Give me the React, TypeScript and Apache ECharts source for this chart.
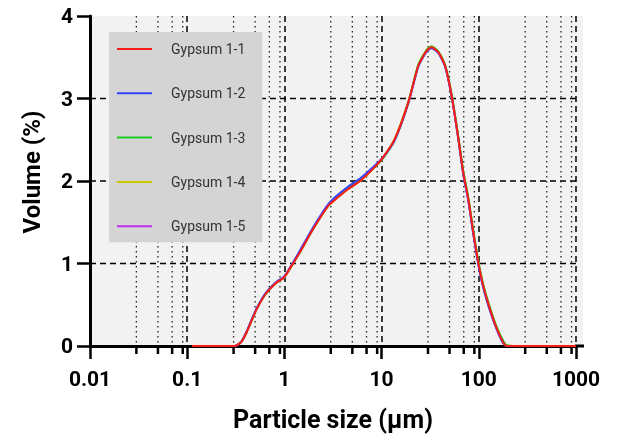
import React, { useEffect, useRef } from "react";
import * as echarts from "echarts";

const sizes = [0.112, 0.2, 0.31, 0.36, 0.41, 0.46, 0.52, 0.64, 0.83, 0.99, 1.24, 1.45, 1.98, 2.83, 3.45, 4.5, 6.0, 8.2, 10.4, 13.7, 18.8, 23.9, 29.1, 32.7, 38.4, 44.9, 52.6, 61.7, 69.2, 78, 87.7, 98.8, 111, 130, 153, 179, 194, 300, 600, 1000];
const gypsum11 = [0, 0, 0, 0.05, 0.17, 0.31, 0.45, 0.63, 0.77, 0.83, 1.01, 1.14, 1.42, 1.7, 1.79, 1.9, 2.0, 2.15, 2.29, 2.51, 2.95, 3.4, 3.58, 3.62, 3.56, 3.4, 3.03, 2.51, 2.1, 1.78, 1.38, 1.01, 0.73, 0.45, 0.21, 0.04, 0, 0, 0, 0];
const gypsum12 = [0, 0, 0, 0.05, 0.18, 0.32, 0.46, 0.64, 0.78, 0.84, 1.02, 1.16, 1.44, 1.72, 1.82, 1.93, 2.03, 2.17, 2.29, 2.5, 2.94, 3.39, 3.57, 3.61, 3.55, 3.39, 3.02, 2.5, 2.08, 1.76, 1.36, 0.99, 0.71, 0.43, 0.2, 0.03, 0, 0, 0, 0];
const gypsum13 = [0, 0, 0, 0.05, 0.17, 0.31, 0.45, 0.63, 0.77, 0.83, 1.01, 1.14, 1.42, 1.7, 1.8, 1.91, 2.01, 2.15, 2.28, 2.5, 2.95, 3.41, 3.59, 3.63, 3.57, 3.41, 3.05, 2.53, 2.12, 1.8, 1.4, 1.03, 0.75, 0.47, 0.23, 0.06, 0.01, 0, 0, 0];
const gypsum14 = [0, 0, 0, 0.05, 0.17, 0.31, 0.45, 0.63, 0.77, 0.83, 1.01, 1.14, 1.42, 1.7, 1.79, 1.9, 2.0, 2.15, 2.29, 2.52, 2.96, 3.41, 3.59, 3.63, 3.57, 3.41, 3.04, 2.52, 2.11, 1.79, 1.39, 1.02, 0.74, 0.46, 0.22, 0.05, 0, 0, 0, 0];
const gypsum15 = [0, 0, 0, 0.05, 0.17, 0.31, 0.45, 0.63, 0.77, 0.83, 1.01, 1.15, 1.43, 1.71, 1.81, 1.92, 2.02, 2.16, 2.29, 2.51, 2.95, 3.4, 3.58, 3.62, 3.56, 3.4, 3.03, 2.51, 2.09, 1.77, 1.37, 1.0, 0.72, 0.44, 0.21, 0.04, 0, 0, 0, 0];

const seriesNames = ["Gypsum 1-1", "Gypsum 1-2", "Gypsum 1-3", "Gypsum 1-4", "Gypsum 1-5"];
const seriesValues = [gypsum11, gypsum12, gypsum13, gypsum14, gypsum15];
const seriesColors = ["#ff1a1a", "#3344ff", "#22cc22", "#c8c800", "#c030f0"];

const xTickLabels = ["0.01", "0.1", "1", "10", "100", "1000"];
const yTickLabels = ["0", "1", "2", "3", "4"];
const yGridLines = [1, 2, 3];
const minorTicks = [0.03, 0.05, 0.07, 0.09, 0.3, 0.5, 0.7, 0.9, 3, 5, 7, 9, 30, 50, 70, 90, 300, 500, 700, 900];

export default function App() {
  const ref = useRef<HTMLDivElement>(null);
  useEffect(() => {
    if (!ref.current) return;
    const chart = echarts.init(ref.current, null, { renderer: "svg" });
    const font = "Roboto";
    const order = [4, 3, 2, 1, 0];
    const lineSeries = order.map((i) => ({
      name: seriesNames[i],
      type: "line",
      data: sizes.map((s, j) => [s, seriesValues[i][j]]),
      showSymbol: false,
      smooth: 0.2,
      clip: false,
      lineStyle: { width: 2, color: seriesColors[i] },
      itemStyle: { color: seriesColors[i] },
    }));
    const customBase = { type: "custom", coordinateSystem: "cartesian2d", clip: false, silent: true };
    const option: any = {
      animation: false,
      graphic: [
        { type: "rect", shape: { x: 91, y: 16, width: 492, height: 330 }, style: { fill: "#f2f2f2" }, z: -100, silent: true },
        { type: "line", shape: { x1: 575, y1: 346, x2: 584, y2: 346 }, style: { stroke: "#000", lineWidth: 3 }, silent: true },
      ],
      grid: { left: 90, top: 16, width: 486, height: 330 },
      legend: {
        data: seriesNames,
        orient: "vertical",
        left: 109,
        top: 32,
        itemWidth: 35,
        itemHeight: 2,
        icon: "rect",
        itemGap: 30.3,
        backgroundColor: "#d4d4d4",
        padding: [10, 17, 9, 8],
        textStyle: { fontFamily: font, fontSize: 14, color: "#333", lineHeight: 14, padding: [0, 0, 0, 14] },
        selectedMode: false,
      },
      xAxis: {
        type: "log",
        logBase: 10,
        min: 0.01,
        max: 1000,
        name: "Particle size (µm)",
        nameLocation: "middle",
        nameGap: 61,
        nameTextStyle: { fontFamily: font, fontSize: 25, fontWeight: "bold", color: "#000" },
        axisLine: { show: true, lineStyle: { color: "#000", width: 3 } },
        axisTick: { show: true, length: 13, lineStyle: { color: "#000", width: 2.5 } },
        axisLabel: {
          margin: 22,
          fontFamily: font,
          fontSize: 21,
          fontWeight: "bold",
          color: "#000",
          formatter: (v: number) => xTickLabels[Math.round(Math.log10(v)) + 2] ?? "",
        },
        splitLine: { show: true, showMinLine: false, lineStyle: { color: "#000", width: 1.5, type: [6, 4] } },
      },
      yAxis: {
        type: "value",
        min: 0,
        max: 4,
        interval: 1,
        name: "Volume (%)",
        nameLocation: "middle",
        nameGap: 46,
        nameTextStyle: { fontFamily: font, fontSize: 24, fontWeight: "bold", color: "#000", padding: [0, 0, 0, 18] },
        axisLine: { show: true, lineStyle: { color: "#000", width: 3 } },
        axisTick: { show: true, length: 13, lineStyle: { color: "#000", width: 2.5 } },
        axisLabel: {
          margin: 17,
          fontFamily: font,
          fontSize: 21,
          fontWeight: "bold",
          color: "#000",
          formatter: (v: number) => yTickLabels[Math.round(v)] ?? "",
        },
        splitLine: { show: false },
      },
      series: [
        {
          ...customBase,
          name: "yGrid",
          data: yGridLines.map((y) => [0.01, y]),
          renderItem: (params: any, api: any) => {
            const y = api.value(1);
            const a = api.coord([0.01, y]);
            const b = api.coord([1000, y]);
            return { type: "line", shape: { x1: a[0], y1: a[1], x2: b[0], y2: b[1] }, style: { stroke: "#000", lineWidth: 1.5, lineDash: [6, 4] } };
          },
        },
        {
          ...customBase,
          name: "xMinor",
          data: minorTicks.map((m) => [m, 0]),
          renderItem: (params: any, api: any) => {
            const x = api.value(0);
            const bottom = api.coord([x, 0]);
            const top = api.coord([x, 4]);
            return {
              type: "group",
              children: [
                { type: "line", shape: { x1: bottom[0], y1: top[1], x2: bottom[0], y2: bottom[1] }, style: { stroke: "#222", lineWidth: 1.3, lineDash: [1.5, 3.5] } },
                { type: "line", shape: { x1: bottom[0], y1: bottom[1], x2: bottom[0], y2: bottom[1] + 8 }, style: { stroke: "#000", lineWidth: 2.5 } },
              ],
            };
          },
        },
        ...lineSeries,
      ],
    };
    chart.setOption(option);
    return () => chart.dispose();
  }, []);
  return <div ref={ref} style={{ position: "fixed", left: 0, top: 0, width: 617, height: 439 }} />;
}
